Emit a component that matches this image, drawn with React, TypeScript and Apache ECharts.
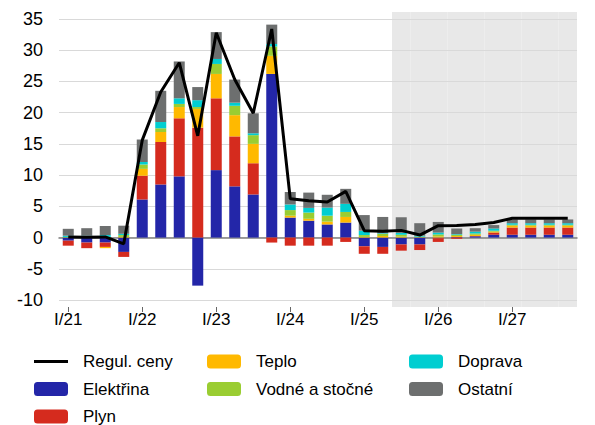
import React, { useEffect, useRef } from "react";
import * as echarts from "echarts";

const categories: string[] = [];
const years = ["21", "22", "23", "24", "25", "26", "27"];
const quarters = ["I", "II", "III", "IV"];
for (const y of years) for (const q of quarters) categories.push(`${q}/${y}`);

const elektrina = [-0.5, -0.8, -0.8, -2.3, 6.1, 8.5, 9.8, -7.7, 10.8, 8.2, 6.9, 26.2, 3.2, 2.7, 2.1, 2.4, -1.4, -1.5, -1.1, -1.1, -0.1, 0.1, 0.2, 0.45, 0.45, 0.45, 0.45, 0.45];
const plyn = [-0.8, -0.9, -0.7, -0.8, 3.8, 6.8, 9.3, 17.6, 11.5, 8.0, 5.0, -0.8, -1.3, -1.3, -1.3, -0.7, -1.2, -1.1, -1.0, -0.9, -0.6, -0.2, 0.05, 0.35, 1.15, 1.15, 1.15, 1.15];
const teplo = [0, 0, -0.2, 0.1, 1.1, 1.6, 1.8, 3.0, 3.9, 3.4, 3.1, 2.9, 0.3, 0.3, 0.45, 0.9, 0.1, 0.25, 0.15, 0.05, 0.2, 0.15, 0.2, 0.15, 0.3, 0.3, 0.3, 0.3];
const vodne = [0.1, 0.1, 0.1, 0.3, 0.7, 0.6, 0.5, 0.3, 1.6, 1.5, 1.4, 1.5, 0.9, 1.0, 0.95, 0.8, 0.3, 0.35, 0.3, 0.1, 0.3, 0.2, 0.2, 0.15, 0.15, 0.15, 0.15, 0.15];
const doprava = [0.2, 0.2, 0.3, 0.2, 0.4, 1.0, 0.9, 1.1, 0.8, 0.5, 0.3, 0.4, 0.9, 0.75, 1.3, 1.3, 0.7, 0.1, 0.3, 0.15, 0.3, 0.1, 0.3, 0.35, 0.25, 0.25, 0.25, 0.25];
const ostatni = [1.1, 1.2, 1.45, 1.3, 3.6, 5.0, 5.9, 2.1, 4.3, 3.7, 3.2, 3.1, 2.0, 2.45, 2.05, 2.4, 2.5, 2.6, 2.5, 2.0, 1.7, 0.9, 0.55, 0.55, 0.6, 0.6, 0.6, 0.6];
const regulCeny = [0.1, 0.05, 0.1, -1.0, 15.6, 23.3, 28.0, 16.3, 32.8, 25.3, 19.9, 33.4, 6.2, 5.9, 5.7, 7.4, 1.1, 1.0, 1.15, 0.4, 1.9, 1.95, 2.1, 2.4, 3.1, 3.1, 3.1, 3.1];
// forecast period (shaded): from III/25 onward
const forecastStart = "III/25";

const yTickMin = -10;
const yTickMax = 35;
const yTickStep = 5;

const FONT = "Liberation Sans, Arial, sans-serif";

export default function App() {
  const ref = useRef<HTMLDivElement>(null);
  useEffect(() => {
    if (!ref.current) return;
    const chart = echarts.init(ref.current, undefined, { renderer: "svg" });
    const startIdx = categories.indexOf(forecastStart);
    const shade = categories.map((_, i) => (i >= startIdx ? 1 : null));

    const barSeries = (name: string, data: number[], color: string) => ({
      name,
      type: "bar",
      stack: "total",
      xAxisIndex: 0,
      yAxisIndex: 0,
      barWidth: 11,
      data,
      itemStyle: { color },
      z: 2,
    });

    const legendCommon = {
      orient: "vertical",
      itemWidth: 34,
      itemHeight: 14,
      itemGap: 10.5,
      padding: 0,
      height: 95,
      textStyle: { fontSize: 17, color: "#000", fontFamily: FONT, lineHeight: 17, padding: [0, 0, 0, 10] },
      selectedMode: false,
      top: 353,
    };

    chart.setOption({
      animation: false,
      textStyle: { fontFamily: FONT },
      grid: [
        { left: 59, right: 18, top: 19, height: 281, containLabel: false },
        { left: 59, right: 18, top: 12, height: 295, containLabel: false },
      ],
      xAxis: [
        {
          type: "category",
          gridIndex: 0,
          data: categories,
          z: 1,
          axisLine: { show: true, onZero: true, lineStyle: { color: "#808080", width: 1.5 } },
          axisTick: { show: false },
          axisLabel: { show: false },
          splitLine: { show: false },
        },
        {
          type: "category",
          gridIndex: 1,
          data: categories,
          axisLine: { show: false },
          axisTick: { show: true, alignWithLabel: true, interval: 3, length: 5, lineStyle: { color: "#666" } },
          axisLabel: { interval: 3, fontSize: 17, color: "#000", margin: 4, fontFamily: FONT },
          splitLine: { show: false },
        },
      ],
      yAxis: [
        {
          type: "value",
          gridIndex: 0,
          min: yTickMin,
          max: yTickMax,
          interval: yTickStep,
          z: 1,
          axisLine: { show: false },
          axisTick: { show: false },
          axisLabel: { fontSize: 18, color: "#000", margin: 16, fontFamily: FONT },
          splitLine: { show: true, lineStyle: { color: "#d9d9d9", width: 1.2 } },
        },
        { type: "value", gridIndex: 1, min: 0, max: 1, show: false },
      ],
      legend: [
        {
          ...legendCommon,
          left: 34,
          symbolKeepAspect: true,
          data: [{ name: "Regul. ceny", icon: "path://M0,0H34V3H0Z" }, "Elektřina", "Plyn"],
        },
        { ...legendCommon, left: 207, data: ["Teplo", "Vodné a stočné"] },
        { ...legendCommon, left: 409, data: ["Doprava", "Ostatní"] },
      ],
      series: [
        {
          name: "shade",
          type: "bar",
          xAxisIndex: 1,
          yAxisIndex: 1,
          barWidth: "100%",
          data: shade,
          itemStyle: { color: "#e8e8e8" },
          silent: true,
          z: 0,
        },
        barSeries("Elektřina", elektrina, "#2326a8"),
        barSeries("Plyn", plyn, "#d52b1e"),
        barSeries("Teplo", teplo, "#ffb900"),
        barSeries("Vodné a stočné", vodne, "#9acd32"),
        barSeries("Doprava", doprava, "#00ced1"),
        barSeries("Ostatní", ostatni, "#6d6f6f"),
        {
          name: "Regul. ceny",
          type: "line",
          xAxisIndex: 0,
          yAxisIndex: 0,
          data: regulCeny,
          symbol: "none",
          itemStyle: { color: "#000" },
          lineStyle: { color: "#000", width: 3 },
          z: 5,
        },
      ],
    });
    return () => chart.dispose();
  }, []);
  return <div ref={ref} style={{ width: 595, height: 425, position: "absolute", left: 0, top: 0 }} />;
}
